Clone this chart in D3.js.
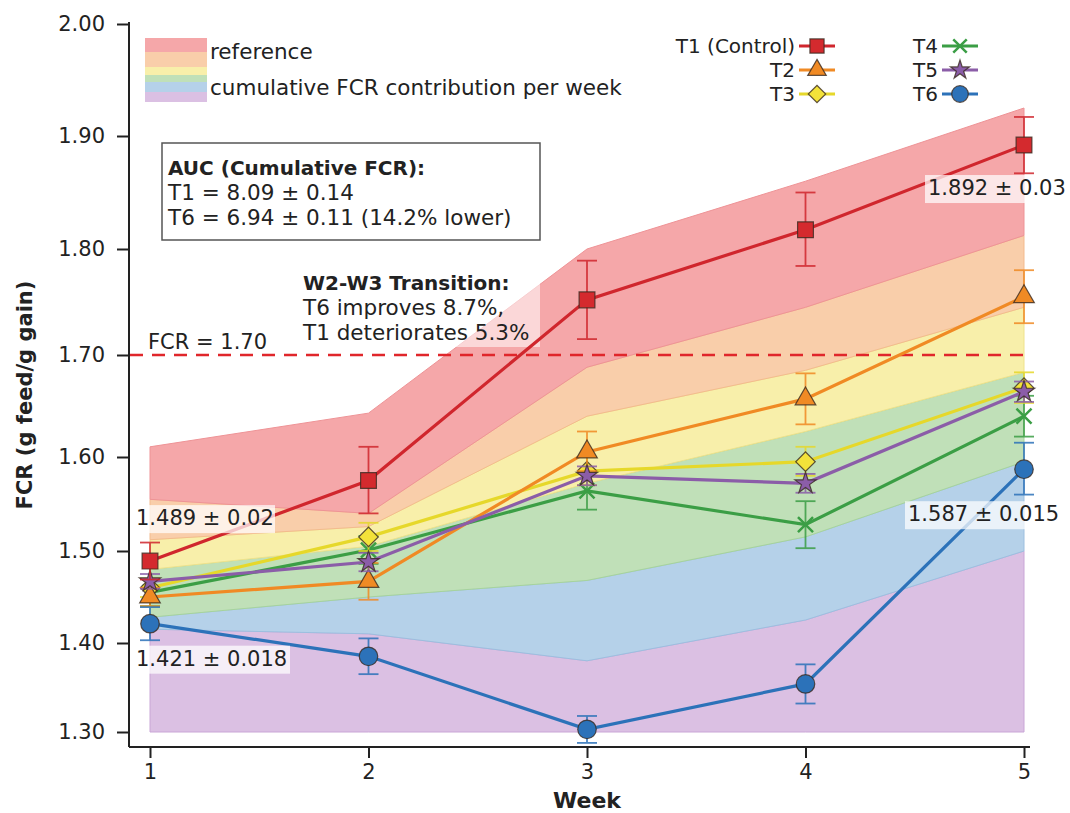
<!DOCTYPE html>
<html><head><meta charset="utf-8">
<script src="https://cdn.jsdelivr.net/npm/d3@7/dist/d3.min.js"></script>
<style>
html,body{margin:0;padding:0;background:#fff;}
svg text{font-family:"DejaVu Sans",sans-serif;fill:#222;}
</style></head>
<body>
<svg id="c" width="1070" height="813"></svg>
<script>
// ---- data ----
const weeks = [1, 2, 3, 4, 5];
const seriesNames = ["T1 (Control)", "T2", "T3", "T4", "T5", "T6"];
const t1 = [1.489, 1.575, 1.752, 1.817, 1.892];
const t1Err = [0.02, 0.035, 0.037, 0.033, 0.025];
const t2 = [1.450, 1.467, 1.605, 1.657, 1.755];
const t2Err = [0.01, 0.02, 0.02, 0.025, 0.025];
const t3 = [1.460, 1.515, 1.585, 1.595, 1.668];
const t3Err = [0.01, 0.015, 0.015, 0.015, 0.015];
const t4 = [1.455, 1.501, 1.564, 1.528, 1.640];
const t4Err = [0.015, 0.015, 0.02, 0.025, 0.02];
const t5 = [1.467, 1.488, 1.580, 1.572, 1.664];
const t5Err = [0.008, 0.01, 0.01, 0.01, 0.01];
const t6 = [1.421, 1.385, 1.303, 1.354, 1.587];
const t6Err = [0.018, 0.02, 0.015, 0.022, 0.027];

// stacked band upper boundaries (bottom -> top), base 1.30
const bandBase = [1.30, 1.30, 1.30, 1.30, 1.30];
const bandPurpleTop = [1.415, 1.410, 1.380, 1.425, 1.500];
const bandBlueTop   = [1.428, 1.450, 1.468, 1.515, 1.595];
const bandGreenTop  = [1.480, 1.505, 1.572, 1.625, 1.683];
const bandYellowTop = [1.512, 1.526, 1.640, 1.685, 1.745];
const bandOrangeTop = [1.555, 1.540, 1.688, 1.745, 1.812];
const bandRedTop    = [1.610, 1.643, 1.800, 1.860, 1.925];

const yTicks = [1.30, 1.40, 1.50, 1.60, 1.70, 1.80, 1.90, 2.00];
const threshold = 1.70;
const auc = {t1: "8.09 ± 0.14", t6: "6.94 ± 0.11", lower: "14.2%"};

// ---- scales ----
const svg = d3.select("#c");
const x = d3.scaleLinear().domain([1, 5]).range([150, 1024]);
const y = d3.scaleLinear()
  .domain([1.2835, 1.30, 1.40, 1.50, 1.60, 1.70, 1.80, 1.90, 2.00])
  .range([747, 732, 643, 551, 457, 355, 249, 136, 24]);

// ---- bands ----
const bands = [
  {lo: bandBase, hi: bandPurpleTop, fill: "#dbc0e3", stroke: "#c9a6d6"},
  {lo: bandPurpleTop, hi: bandBlueTop, fill: "#b5d1e9", stroke: "#9cbfdf"},
  {lo: bandBlueTop, hi: bandGreenTop, fill: "#c0e0b8", stroke: "#a6d39c"},
  {lo: bandGreenTop, hi: bandYellowTop, fill: "#f8efaa", stroke: "#efe28c"},
  {lo: bandYellowTop, hi: bandOrangeTop, fill: "#f9ceaa", stroke: "#f3bb8e"},
  {lo: bandOrangeTop, hi: bandRedTop, fill: "#f5a7a9", stroke: "#ee9396"}
];
const area = d3.area().x((d, i) => x(weeks[i]));
bands.forEach(b => {
  svg.append("path")
    .datum(weeks.map((w, i) => [b.lo[i], b.hi[i]]))
    .attr("d", area.y0(d => y(d[0])).y1(d => y(d[1])))
    .attr("fill", b.fill).attr("stroke", b.stroke).attr("stroke-width", 1);
});

// annotation translucent box (W2-W3)
svg.append("rect").attr("x", 296).attr("y", 265).attr("width", 244).attr("height", 82)
  .attr("fill", "#fff").attr("opacity", 0.55);

// ---- threshold line ----
svg.append("line").attr("x1", 130).attr("x2", 1030)
  .attr("y1", y(threshold)).attr("y2", y(threshold))
  .attr("stroke", "#e0262b").attr("stroke-width", 2.5).attr("stroke-dasharray", "13,9");
svg.append("text").attr("x", 148).attr("y", y(threshold) - 6)
  .attr("font-size", 21).text("FCR = " + threshold.toFixed(2));

// ---- axes ----
const gy = svg.append("g").attr("transform", "translate(129,0)")
  .call(d3.axisLeft(y).tickValues(yTicks).tickFormat(d3.format(".2f")).tickSize(12).tickSizeOuter(0).tickPadding(12));
gy.select(".domain").attr("d", "M0,22V747");
const gx = svg.append("g").attr("transform", "translate(0,747)")
  .call(d3.axisBottom(x).tickValues(weeks).tickFormat(d3.format("d")).tickSize(11).tickSizeOuter(0).tickPadding(6));
gx.select(".domain").attr("d", "M129,0H1030");
[gx, gy].forEach(g => {
  g.selectAll("path,line").attr("stroke", "#222").attr("stroke-width", 2);
  g.selectAll("text").attr("font-size", 21).attr("fill", "#222").attr("font-family", "DejaVu Sans");
});

svg.append("text").attr("x", x(3)).attr("y", 808).attr("text-anchor", "middle")
  .attr("font-size", 22).attr("font-weight", "bold").text("Week");
svg.append("text").attr("transform", "translate(32,395) rotate(-90)").attr("text-anchor", "middle")
  .attr("font-size", 21).attr("font-weight", "bold").text("FCR (g feed/g gain)");

// ---- series ----
const series = [
  {name: seriesNames[3], v: t4, e: t4Err, color: "#3b9e45", fill: "#3b9e45", sym: d3.symbolX, size: 150, strokeOnly: true},
  {name: seriesNames[2], v: t3, e: t3Err, color: "#e6d82a", fill: "#f3e23a", sym: "diamond", size: 190},
  {name: seriesNames[1], v: t2, e: t2Err, color: "#f08a24", fill: "#f08a24", sym: d3.symbolTriangle, size: 185},
  {name: seriesNames[4], v: t5, e: t5Err, color: "#8b5da8", fill: "#8b5da8", sym: d3.symbolStar, size: 140},
  {name: seriesNames[5], v: t6, e: t6Err, color: "#2c72b9", fill: "#2c72b9", sym: d3.symbolCircle, size: 270},
  {name: seriesNames[0], v: t1, e: t1Err, color: "#d0262d", fill: "#d42a2e", sym: d3.symbolSquare, size: 250}
];
function symPath(s) {
  if (s.sym === "diamond") return d3.symbol(d3.symbolSquare, s.size)();
  return d3.symbol(s.sym, s.size)();
}
function drawMarker(g, s, cx, cy) {
  const p = g.append("path").attr("d", symPath(s))
    .attr("transform", `translate(${cx},${cy})` + (s.sym === "diamond" ? " rotate(45)" : ""));
  if (s.strokeOnly) p.attr("fill", "none").attr("stroke", s.color).attr("stroke-width", 2.5);
  else p.attr("fill", s.fill).attr("stroke", "#3a2a20").attr("stroke-width", 1.2).attr("stroke-opacity", 0.8);
}
const line = d3.line().x((d, i) => x(weeks[i])).y(d => y(d));
series.forEach(s => {
  const g = svg.append("g");
  g.append("path").datum(s.v).attr("d", line).attr("fill", "none")
    .attr("stroke", s.color).attr("stroke-width", 3.2);
  s.v.forEach((v, i) => {
    const cx = x(weeks[i]);
    const eg = g.append("g").attr("stroke", s.color).attr("stroke-width", 1.8).attr("opacity", 0.85);
    eg.append("line").attr("x1", cx).attr("x2", cx).attr("y1", y(v - s.e[i])).attr("y2", y(v + s.e[i]));
    eg.append("line").attr("x1", cx - 10).attr("x2", cx + 10).attr("y1", y(v - s.e[i])).attr("y2", y(v - s.e[i]));
    eg.append("line").attr("x1", cx - 10).attr("x2", cx + 10).attr("y1", y(v + s.e[i])).attr("y2", y(v + s.e[i]));
  });
  s.v.forEach((v, i) => drawMarker(g, s, x(weeks[i]), y(v)));
});

// ---- value labels ----
function valLabel(txt, lx, ly, w) {
  svg.append("rect").attr("x", lx - 3).attr("y", ly - 20).attr("width", w).attr("height", 28)
    .attr("fill", "#fff").attr("opacity", 0.72);
  svg.append("text").attr("x", lx).attr("y", ly).attr("font-size", 21).text(txt);
}
valLabel(t1[0].toFixed(3) + " ± " + t1Err[0].toFixed(2), x(1) - 14, y(t1[0]) - 36, 142);
valLabel(t6[0].toFixed(3) + " ± " + t6Err[0].toFixed(3), x(1) - 14, y(t6[0]) + 42, 157);
valLabel(t1[4].toFixed(3) + " ± 0.03", x(5) - 96, y(t1[4]) + 50, 140);
valLabel(t6[4].toFixed(3) + " ± 0.015", x(5) - 116, y(t6[4]) + 52, 162);

// ---- AUC box ----
svg.append("rect").attr("x", 162).attr("y", 143).attr("width", 378).attr("height", 97)
  .attr("fill", "#fff").attr("stroke", "#555").attr("stroke-width", 1.5);
svg.append("text").attr("x", 168).attr("y", 175).attr("font-size", 20).attr("font-weight", "bold").text("AUC (Cumulative FCR):");
svg.append("text").attr("x", 168).attr("y", 200).attr("font-size", 21.5).text("T1 = " + auc.t1);
svg.append("text").attr("x", 168).attr("y", 225).attr("font-size", 21.5).text("T6 = " + auc.t6 + " (" + auc.lower + " lower)");

// ---- W2-W3 annotation ----
svg.append("text").attr("x", 303).attr("y", 290).attr("font-size", 20).attr("font-weight", "bold").text("W2-W3 Transition:");
svg.append("text").attr("x", 303).attr("y", 315).attr("font-size", 21.5).text("T6 improves 8.7%,");
svg.append("text").attr("x", 303).attr("y", 340).attr("font-size", 21.5).text("T1 deteriorates 5.3%");

// ---- band legend ----
const swatchCols = ["#f5a7a9", "#f9ceaa", "#f8efaa", "#c0e0b8", "#b5d1e9", "#dbc0e3"];
const swatchH = [14, 15, 8, 7, 10, 10];
let sy = 38;
swatchCols.forEach((c, i) => {
  svg.append("rect").attr("x", 145).attr("y", sy).attr("width", 62).attr("height", swatchH[i]).attr("fill", c);
  sy += swatchH[i];
});
svg.append("text").attr("x", 210).attr("y", 59).attr("font-size", 21.5).text("reference");
svg.append("text").attr("x", 210).attr("y", 95).attr("font-size", 21.5).text("cumulative FCR contribution per week");

// ---- series legend ----
const legendOrder = [5, 2, 1, 0, 3, 4]; // T1,T2,T3,T4,T5,T6 indices into series
const legPos = [[797, 46], [797, 70], [797, 94], [940, 46], [940, 70], [940, 94]];
legendOrder.forEach((si, k) => {
  const s = series[si];
  const [lx, ly] = legPos[k];
  svg.append("text").attr("x", lx - 2).attr("y", ly + 7).attr("text-anchor", "end").attr("font-size", 20).text(s.name);
  const g = svg.append("g");
  g.append("line").attr("x1", lx + 2).attr("x2", lx + 38).attr("y1", ly).attr("y2", ly)
    .attr("stroke", s.color).attr("stroke-width", 3);
  drawMarker(g, {...s, size: s.size * 0.8}, lx + 20, ly);
});
</script>
</body></html>
